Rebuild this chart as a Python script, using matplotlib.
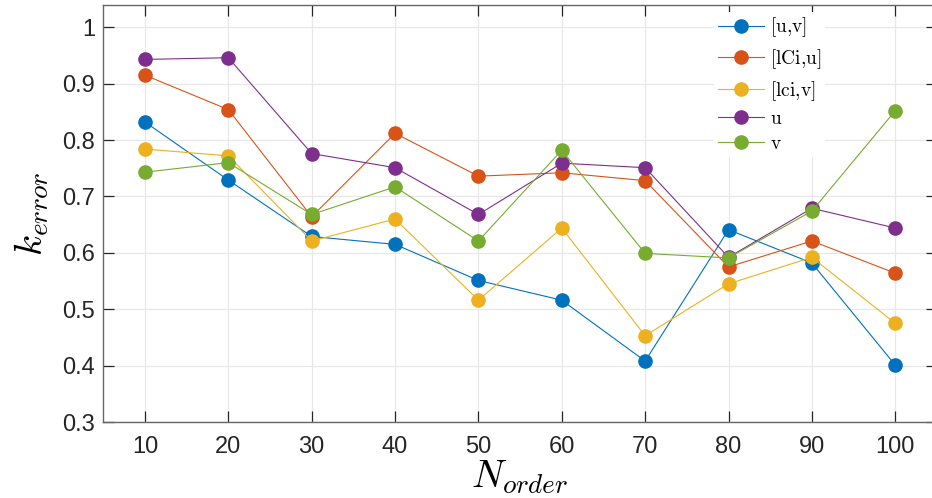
import matplotlib
matplotlib.use("Agg")
import matplotlib.pyplot as plt

plt.rcParams['mathtext.fontset'] = 'cm'
plt.rcParams['font.family'] = ['Liberation Sans', 'DejaVu Sans']

n_order = [10, 20, 30, 40, 50, 60, 70, 80, 90, 100]
uv = [0.832, 0.729, 0.629, 0.615, 0.551, 0.516, 0.408, 0.641, 0.582, 0.401]
lci_u = [0.915, 0.854, 0.664, 0.812, 0.736, 0.742, 0.728, 0.575, 0.621, 0.564]
lci_v = [0.784, 0.772, 0.621, 0.660, 0.516, 0.644, 0.453, 0.545, 0.592, 0.475]
u_only = [0.943, 0.946, 0.776, 0.751, 0.668, 0.759, 0.751, 0.592, 0.679, 0.644]
v_only = [0.743, 0.760, 0.668, 0.717, 0.621, 0.782, 0.599, 0.591, 0.674, 0.852]

labels = [r'$\mathrm{[u{,}v]}$', r'$\mathrm{[lCi{,}u]}$', r'$\mathrm{[lci{,}v]}$',
          r'$\mathrm{u}$', r'$\mathrm{v}$']
colors = ['#0072BD', '#D95319', '#EDB120', '#7E2F8E', '#77AC30']
series = [uv, lci_u, lci_v, u_only, v_only]

W, H = 932, 498
fig = plt.figure(figsize=(W / 100, H / 100), dpi=100)
ax = fig.add_axes([103.3 / W, (H - 422) / H, (936.9 - 103.3) / W, (422 - 5) / H])

for ys, c, lab in zip(series, colors, labels):
    ax.plot(n_order, ys, '-o', color=c, lw=0.8, ms=9.5, label=lab, zorder=3)

ax.set_xlim(5, 105)
ax.set_ylim(0.3, 1.0395)
ax.set_xticks(n_order)
ax.set_yticks([0.3, 0.4, 0.5, 0.6, 0.7, 0.8, 0.9, 1.0])
ax.set_yticklabels(['0.3', '0.4', '0.5', '0.6', '0.7', '0.8', '0.9', '1'])
ax.grid(True, color='#e8e8e8', lw=0.9, zorder=0)
ax.set_axisbelow(True)
for s in ax.spines.values():
    s.set_color('#666666')
    s.set_linewidth(1.0)
ax.tick_params(direction='in', length=8, width=0.9, color='#262626',
               labelsize=17, labelcolor='#262626', top=True, right=True)
ax.tick_params(axis='x', pad=10)
ax.tick_params(axis='y', pad=6)

ax.set_xlabel(r'$N_{order}$', fontsize=28, labelpad=0)
ax.set_ylabel(r'$k_{error}$', fontsize=28, labelpad=8)

leg = ax.legend(loc='upper left', bbox_to_anchor=(704 / W, 1 - 2 / H),
                bbox_transform=fig.transFigure, fontsize=14, frameon=True,
                fancybox=False, edgecolor='none', facecolor='white', framealpha=1,
                handlelength=2.4, handletextpad=0.3, labelspacing=0.4,
                borderpad=0.2)

fig.savefig('out.png', dpi=100)
